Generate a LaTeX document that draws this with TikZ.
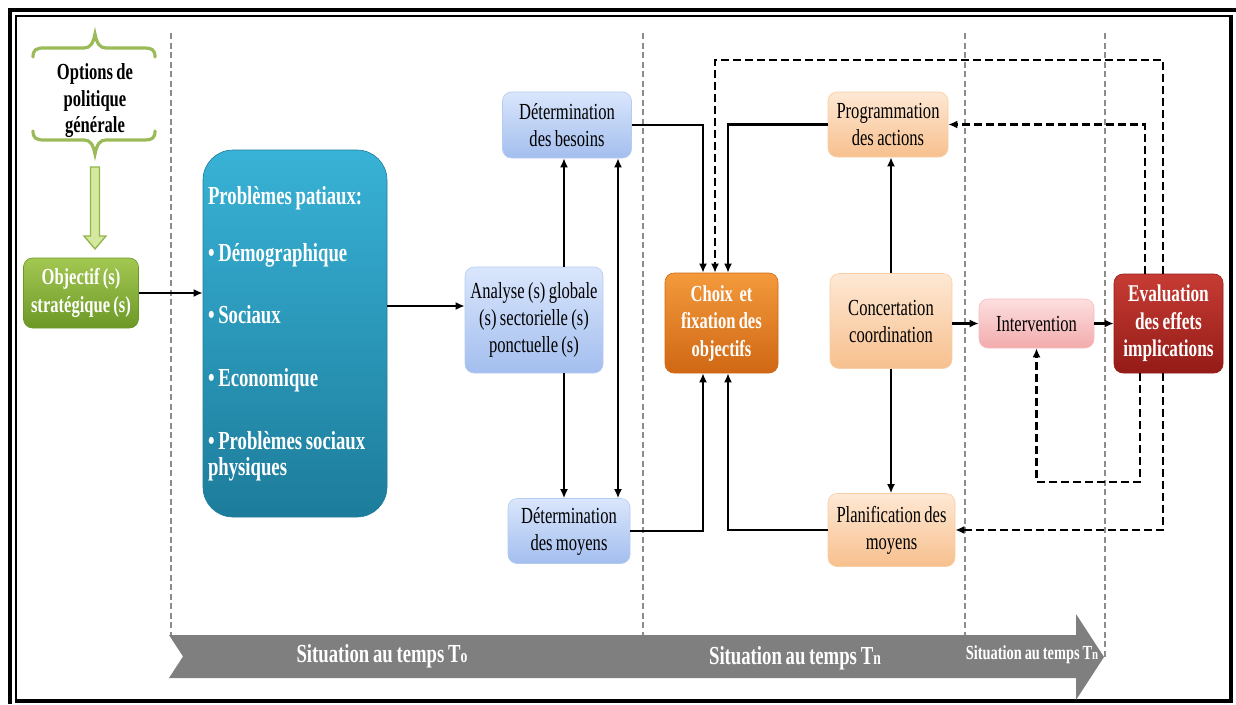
\documentclass[tikz,border=0pt]{standalone}
\usepackage{fontspec}
\setmainfont{Liberation Serif}[FakeStretch=0.72, WordSpace=0.8]
\usetikzlibrary{arrows.meta}

\definecolor{greenA}{HTML}{A3C852}
\definecolor{greenB}{HTML}{6C9826}
\definecolor{tealA}{HTML}{38B2D6}
\definecolor{tealB}{HTML}{1D7C9B}
\definecolor{blueA}{HTML}{DAE6FC}
\definecolor{blueB}{HTML}{A3BEEE}
\definecolor{orangeA}{HTML}{F39A3C}
\definecolor{orangeB}{HTML}{D06714}
\definecolor{peachA}{HTML}{FEE8D4}
\definecolor{peachB}{HTML}{F7C08E}
\definecolor{pinkA}{HTML}{FDDFDF}
\definecolor{pinkB}{HTML}{F2ABAD}
\definecolor{redA}{HTML}{C63C34}
\definecolor{redB}{HTML}{941B17}
\definecolor{braceG}{HTML}{9BBB59}
\definecolor{lightG}{HTML}{D4E8A0}
\definecolor{guideG}{HTML}{8C8C8C}
\definecolor{tlG}{HTML}{7F7F7F}

\tikzset{
  base/.style={rounded corners=9pt, align=center, inner sep=0pt,
    font=\fontsize{23}{27}\selectfont, text=black},
  boldbase/.style={base, text=white, font=\fontsize{23}{27.5}\selectfont\bfseries},
  bluebox/.style={base, top color=blueA, bottom color=blueB, draw=blueB!80!white, line width=0.6pt},
  peachbox/.style={base, top color=peachA, bottom color=peachB, draw=peachB!80!white, line width=0.6pt},
  pinkbox/.style={base, top color=pinkA, bottom color=pinkB, draw=pinkB!80!white, line width=0.6pt},
  greenbox/.style={boldbase, top color=greenA, bottom color=greenB, draw=greenB, line width=0.6pt},
  orangebox/.style={boldbase, top color=orangeA, bottom color=orangeB, draw=orangeB, line width=0.6pt},
  redbox/.style={boldbase, top color=redA, bottom color=redB, draw=redB, line width=0.6pt},
  tealbox/.style={boldbase, rounded corners=30pt, top color=tealA, bottom color=tealB,
    draw=tealB, line width=0.6pt, align=left},
  conn/.style={line width=2.8pt, -{Latex[length=9pt,width=8pt]}},
  dconn/.style={conn, dash pattern=on 8pt off 4pt},
  guide/.style={guideG, line width=1.6pt, dash pattern=on 6pt off 3.5pt},
  tltext/.style={text=white, font=\fontsize{26}{26}\selectfont\bfseries, inner sep=0pt},
}

\begin{document}
\begin{tikzpicture}[x=1pt,y=-1pt]
\useasboundingbox (0,0) rectangle (1236,704);

% double frame
\draw[line width=3.5pt] (10,704) -- (10,10) -- (1236,10);
\draw[line width=2.5pt] (16,701) -- (16,16) -- (1231,16);
\draw[line width=4pt] (1231,14.5) -- (1231,701) -- (14.5,701);

% time separators
\foreach \gx/\gy in {171/636, 643/636, 965/636, 1105/660}
  \draw[guide] (\gx,33) -- (\gx,\gy);

% timeline arrow
\fill[tlG] (169,635) -- (1076,635) -- (1076,614) -- (1104,657) -- (1076,700)
  -- (1076,678) -- (169,678) -- (183,656.5) -- cycle;
\node[tltext] (t0) at (382,656) {Situation au temps T{\fontsize{19}{19}\selectfont o}};
\node[tltext] (t1) at (795,658) {Situation au temps T{\fontsize{19}{19}\selectfont n}};
\node[tltext, font=\fontsize{20}{20}\selectfont\bfseries] (t2) at (1032,655)
  {Situation au temps T{\fontsize{15}{15}\selectfont n}};

% general policy options between braces
\draw[braceG, line width=3.2pt, line cap=round]
  (33,57) .. controls (33,50) and (36,48) .. (44,48) -- (84,48)
  .. controls (90,48) and (93,44) .. (95,34)
  .. controls (97,44) and (100,48) .. (106,48) -- (145,48)
  .. controls (152,48) and (155,50) .. (155,57);
\draw[braceG, line width=3.2pt, line cap=round]
  (33,131) .. controls (33,138) and (36,140) .. (44,140) -- (84,140)
  .. controls (90,140) and (93,144) .. (95,154)
  .. controls (97,144) and (100,140) .. (106,140) -- (145,140)
  .. controls (152,140) and (155,138) .. (155,131);
\node[base, font=\fontsize{23}{26.5}\selectfont\bfseries] (opt) at (95,101)
  {Options de\\politique\\générale};

% green hollow arrow down to the strategic objectives
\filldraw[fill=lightG, draw=greenA!90!black, line width=1.3pt]
  (90.5,167) -- (99.5,167) -- (99.5,236) -- (106,236) -- (95,249) -- (84,236)
  -- (90.5,236) -- cycle;

% boxes
\node[greenbox, minimum width=115pt, minimum height=70pt] (obj) at (81,293)
  {Objectif (s)\\stratégique (s)};
\node[tealbox, minimum width=184pt, minimum height=367pt, text width=174pt,
  font=\fontsize{26}{26}\selectfont\bfseries] (prob) at (295,333.5)
  {\spaceskip=0pt\xspaceskip=0pt
   Problèmes patiaux:\\[31pt]
   • Démographique\\[36pt]
   • Sociaux\\[37pt]
   • Economique\\[37pt]
   • Problèmes sociaux\\
   physiques};
\node[bluebox, minimum width=138pt, minimum height=106pt] (ana) at (534,320)
  {Analyse (s) globale\\(s) sectorielle (s)\\ponctuelle (s)};
\node[bluebox, minimum width=129pt, minimum height=66pt] (bes) at (567,125)
  {Détermination\\des besoins};
\node[bluebox, minimum width=122pt, minimum height=65pt] (moy) at (569,531)
  {Détermination\\des moyens};
\node[orangebox, minimum width=113pt, minimum height=100pt] (choix) at (721.5,323)
  {Choix~ et\\fixation des\\objectifs};
\node[peachbox, minimum width=120pt, minimum height=65pt] (prog) at (888,124.5)
  {Programmation\\des actions};
\node[peachbox, minimum width=122pt, minimum height=95pt] (conc) at (891,321)
  {Concertation\\coordination};
\node[peachbox, minimum width=127pt, minimum height=73pt] (plan) at (891.5,530)
  {Planification des\\moyens};
\node[pinkbox, minimum width=115pt, minimum height=49pt] (inter) at (1036.5,323.5)
  {Intervention};
\node[redbox, minimum width=109pt, minimum height=99pt,
  font=\fontsize{24}{27.5}\selectfont\bfseries] (eval) at (1168.5,323.5)
  {Evaluation\\des effets\\implications};

% routing coordinates
\coordinate (ypa) at (0,306);
\coordinate (xa) at (564,0);
\coordinate (xb) at (618,0);
\coordinate (xl) at (703,0);
\coordinate (xd) at (715,0);
\coordinate (xr) at (728,0);
\coordinate (xi) at (1145,0);
\coordinate (xj) at (1140,0);
\coordinate (xo) at (1163,0);
\coordinate (ytop) at (0,60);
\coordinate (ylow) at (0,482);

% solid connectors
\draw[conn] (obj.east) -- (obj.east -| prob.west);
\draw[conn] (prob.east |- ypa) -- (ana.west |- ypa);
\draw[conn] (ana.north -| xa) -- (bes.south -| xa);
\draw[conn] (ana.south -| xa) -- (moy.north -| xa);
\draw[conn, {Latex[length=9pt,width=8pt]}-{Latex[length=9pt,width=8pt]}, line width=2pt]
  (bes.south -| xb) -- (moy.north -| xb);
\draw[conn] (bes.east) -| (choix.north -| xl);
\draw[conn] (prog.west) -| (choix.north -| xr);
\draw[conn] (moy.east) -| (choix.south -| xl);
\draw[conn] (plan.west) -| (choix.south -| xr);
\draw[conn] (conc.north) -- (conc.north |- prog.south);
\draw[conn] (conc.south) -- (conc.south |- plan.north);
\draw[conn] (conc.east |- inter.west) -- (inter.west);
\draw[conn] (inter.east) -- (inter.east -| eval.west);

% feedback loops
\draw[dconn] (eval.north -| xo) -- (xo |- ytop) -| (choix.north -| xd);
\draw[dconn] (eval.north -| xi) |- (prog.east);
\draw[dconn] (eval.south -| xj) -- (xj |- ylow) -| (inter.south);
\draw[dconn] (eval.south -| xo) |- (plan.east);

\end{tikzpicture}
\end{document}
